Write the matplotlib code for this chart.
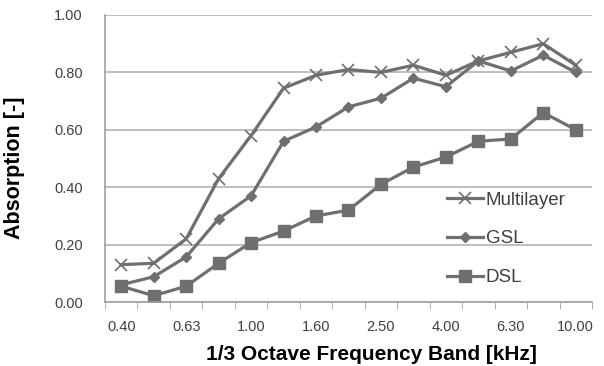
import matplotlib.pyplot as plt
import numpy as np

bands = ['0.40', '0.50', '0.63', '0.80', '1.00', '1.25', '1.60', '2.00',
         '2.50', '3.15', '4.00', '5.00', '6.30', '8.00', '10.00']
multilayer = [0.13, 0.135, 0.22, 0.43, 0.58, 0.745, 0.79, 0.81, 0.80, 0.825,
              0.79, 0.84, 0.87, 0.90, 0.825]
gsl = [0.06, 0.088, 0.157, 0.29, 0.37, 0.56, 0.61, 0.68, 0.71, 0.78,
       0.75, 0.84, 0.805, 0.86, 0.80]
dsl = [0.055, 0.022, 0.055, 0.135, 0.207, 0.247, 0.30, 0.32, 0.41, 0.47,
       0.505, 0.56, 0.568, 0.66, 0.60]

plt.rcParams['font.family'] = ['Liberation Sans', 'DejaVu Sans']
col = '#6f6f6f'

fig = plt.figure(figsize=(6.04, 3.66), dpi=100)
ax = fig.add_axes([105/604, 1-302/366, 487/604, 287/366])

x = np.arange(len(bands))
ax.plot(x, multilayer, color=col, lw=2.3, marker='x', ms=9, mew=1.2, label='Multilayer')
ax.plot(x, gsl, color=col, lw=2.3, marker='D', ms=5.5, label='GSL')
ax.plot(x, dsl, color=col, lw=2.3, marker='s', ms=9, label='DSL')

ax.set_xlim(-0.5, len(bands)-0.5)
ax.set_ylim(0, 1.0)
ax.set_yticks(np.arange(0, 1.01, 0.2))
ax.set_yticklabels(['%.2f' % v for v in np.arange(0, 1.01, 0.2)])
ax.yaxis.grid(True, color='#b4b4b4', lw=1.2)
ax.set_axisbelow(True)

ax.set_xticks(x[::2])
ax.set_xticklabels(bands[::2])
ax.set_xticks(np.arange(-0.5, len(bands), 1), minor=True)
ax.tick_params(axis='x', which='major', length=0, pad=13, labelsize=10.5, labelcolor='#404040')
ax.tick_params(axis='x', which='minor', length=5, color='#a0a0a0', direction='out')
ax.tick_params(axis='y', length=0, pad=16, labelsize=10.5, labelcolor='#404040')

for s in ['top', 'right']:
    ax.spines[s].set_visible(False)
for s in ['left', 'bottom']:
    ax.spines[s].set_color('#a0a0a0')
    ax.spines[s].set_linewidth(1.2)

ax.set_ylabel('Absorption [-]', fontsize=15.5, fontweight='bold')
ax.yaxis.set_label_coords(-0.164, 0.469)
ax.set_xlabel('1/3 Octave Frequency Band [kHz]', fontsize=15, fontweight='bold')
ax.xaxis.set_label_coords(0.548, -0.15)

leg = ax.legend(loc='center left', bbox_to_anchor=(0.702, 0.22), frameon=False,
                fontsize=13.5, labelspacing=1.15, handlelength=1.92, handletextpad=0.15,
                borderpad=0, borderaxespad=0)
for t in leg.get_texts():
    t.set_color('#404040')

fig.savefig('out.png', dpi=100)
